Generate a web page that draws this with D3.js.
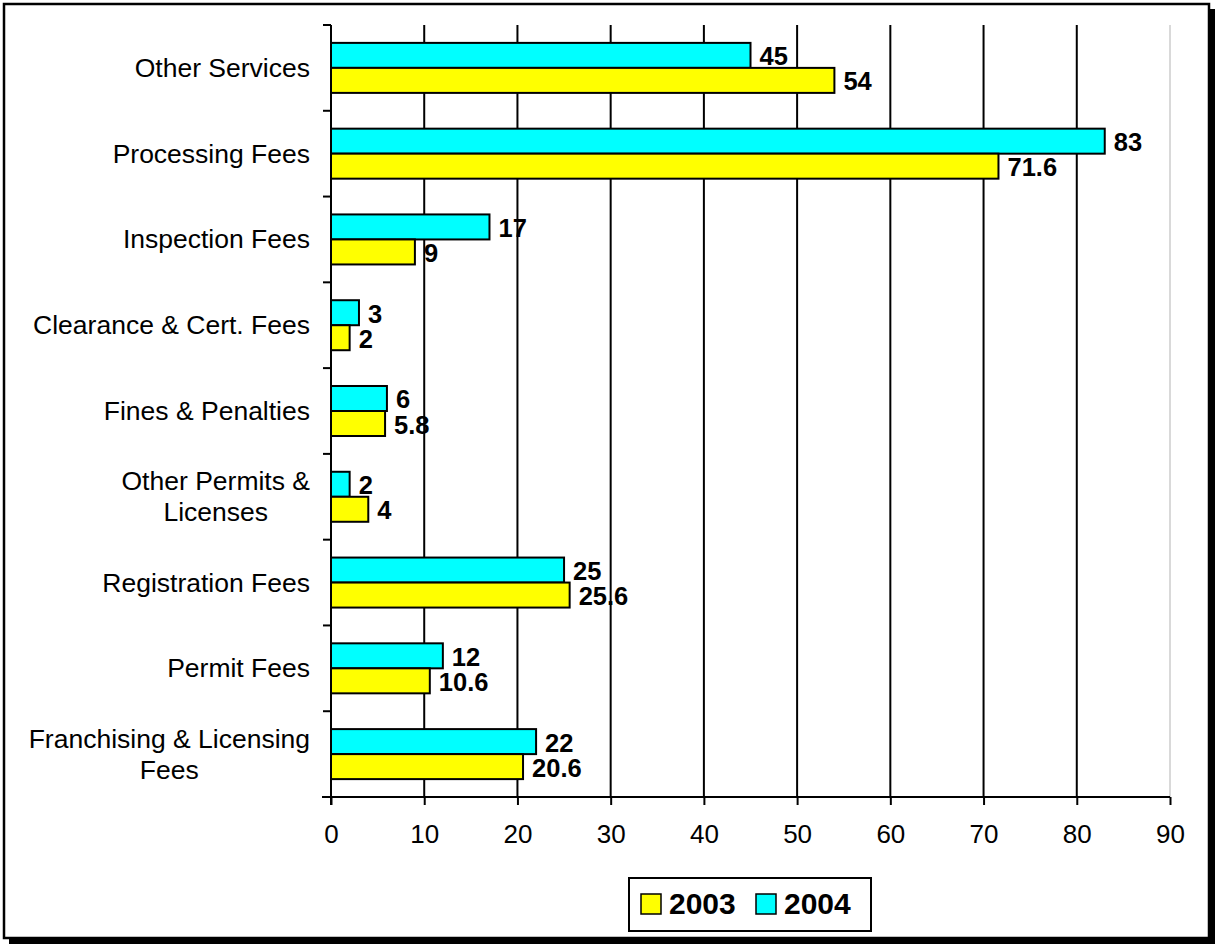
<!DOCTYPE html>
<html>
<head>
<meta charset="utf-8">
<script src="https://cdn.jsdelivr.net/npm/d3@7"></script>
<style>
  html, body { margin: 0; padding: 0; background: #fff; }
  svg { display: block; }
  text { font-family: "Liberation Sans", Arial, sans-serif; }
</style>
</head>
<body>
<svg id="chart" width="1215" height="944"></svg>
<script>
// ---- data ----
const categories = [
  "Other Services",
  "Processing Fees",
  "Inspection Fees",
  "Clearance & Cert. Fees",
  "Fines & Penalties",
  "Other Permits &\nLicenses",
  "Registration Fees",
  "Permit Fees",
  "Franchising & Licensing\nFees"
];
const values2003 = [54, 71.6, 9, 2, 5.8, 4, 25.6, 10.6, 20.6];
const values2004 = [45, 83, 17, 3, 6, 2, 25, 12, 22];
const seriesNames = ["2003", "2004"];
const xTicks = [0, 10, 20, 30, 40, 50, 60, 70, 80, 90];

const colors = { "2003": "#FFFF00", "2004": "#00FFFF" };

(function () {
const svg = d3.select("#chart");

// frame with shadow
svg.append("rect").attr("x", 9).attr("y", 9).attr("width", 1206).attr("height", 935).attr("fill", "#000");
svg.append("rect").attr("x", 4).attr("y", 4).attr("width", 1205).attr("height", 934)
  .attr("fill", "#fff").attr("stroke", "#000").attr("stroke-width", 2.5);

const pLeft = 331, pRight = 1170, pTop = 25, pBottom = 797;

const x = d3.scaleLinear().domain([0, 90]).range([pLeft, pRight]);
const y = d3.scaleBand().domain(categories).range([pTop, pBottom])
  .paddingInner(0.417).paddingOuter(0.2085);
const sub = d3.scaleBand().domain(["2004", "2003"]).range([0, y.bandwidth()]);

// gridlines
const g = svg.append("g");
g.selectAll("line.grid").data(xTicks.filter(t => t > 0)).join("line")
  .attr("x1", d => x(d)).attr("x2", d => x(d))
  .attr("y1", pTop).attr("y2", pBottom)
  .attr("stroke", d => d === 90 ? "#c0c0c0" : "#000")
  .attr("stroke-width", d => d === 90 ? 1.2 : 2);

// bars
const bars = [];
categories.forEach((c, i) => {
  bars.push({ c: c, s: "2004", v: values2004[i] });
  bars.push({ c: c, s: "2003", v: values2003[i] });
});
g.selectAll("rect.bar").data(bars).join("rect")
  .attr("x", x(0))
  .attr("y", d => y(d.c) + sub(d.s))
  .attr("width", d => x(d.v) - x(0))
  .attr("height", sub.bandwidth())
  .attr("fill", d => colors[d.s])
  .attr("stroke", "#000").attr("stroke-width", 2);

// value labels
g.selectAll("text.val").data(bars).join("text")
  .attr("x", d => x(d.v) + 9)
  .attr("y", d => y(d.c) + sub(d.s) + sub.bandwidth() / 2 + 1)
  .attr("dominant-baseline", "central")
  .attr("font-size", 25.5).attr("font-weight", "bold")
  .text(d => d.v);

// x axis
const xAxis = d3.axisBottom(x).tickValues(xTicks).tickSize(8).tickPadding(20).tickFormat(d3.format("d"));
const xa = svg.append("g").attr("transform", `translate(0,${pBottom})`).call(xAxis);
xa.select(".domain").remove();
xa.selectAll(".tick line").attr("stroke", "#000").attr("stroke-width", 2);
xa.selectAll(".tick text").attr("font-size", 26).attr("fill", "#000")
  .attr("font-family", "'Liberation Sans', Arial, sans-serif");
svg.append("line").attr("x1", 322).attr("x2", pRight).attr("y1", pBottom).attr("y2", pBottom)
  .attr("stroke", "#000").attr("stroke-width", 2);

// y axis
svg.append("line").attr("x1", pLeft).attr("x2", pLeft).attr("y1", pTop).attr("y2", pBottom + 8)
  .attr("stroke", "#000").attr("stroke-width", 2);
const step = y.step();
const boundaries = d3.range(categories.length + 1).map(i => pTop + i * step);
svg.selectAll("line.ytick").data(boundaries).join("line")
  .attr("x1", pLeft - 8).attr("x2", pLeft).attr("y1", d => d).attr("y2", d => d)
  .attr("stroke", "#000").attr("stroke-width", 2);

// category labels (right-aligned block, each line centred within it)
const labels = svg.append("g");
categories.forEach(c => {
  const lines = c.split("\n");
  const cy = y(c) + y.bandwidth() / 2;
  const lh = 31;
  const t = labels.append("text")
    .attr("text-anchor", "middle")
    .attr("font-size", 26.5).attr("fill", "#000");
  const spans = lines.map((ln, i) => t.append("tspan")
      .attr("x", 0)
      .attr("y", cy + (i - (lines.length - 1) / 2) * lh)
      .attr("dominant-baseline", "central")
      .text(ln));
  const w = d3.max(spans, s => s.node().getComputedTextLength());
  spans.forEach(s => s.attr("x", 310 - w / 2));
});

// legend
const lg = svg.append("g");
lg.append("rect").attr("x", 629).attr("y", 878).attr("width", 242).attr("height", 53)
  .attr("fill", "#fff").attr("stroke", "#000").attr("stroke-width", 2);
const legendX = { "2003": 641, "2004": 756 };
seriesNames.forEach(s => {
  lg.append("rect").attr("x", legendX[s]).attr("y", 894).attr("width", 20).attr("height", 20)
    .attr("fill", colors[s]).attr("stroke", "#000").attr("stroke-width", 1.5);
  lg.append("text").attr("x", legendX[s] + 28).attr("y", 914)
    .attr("font-size", 30).attr("font-weight", "bold").attr("fill", "#000").text(s);
});
})();
</script>
</body>
</html>
